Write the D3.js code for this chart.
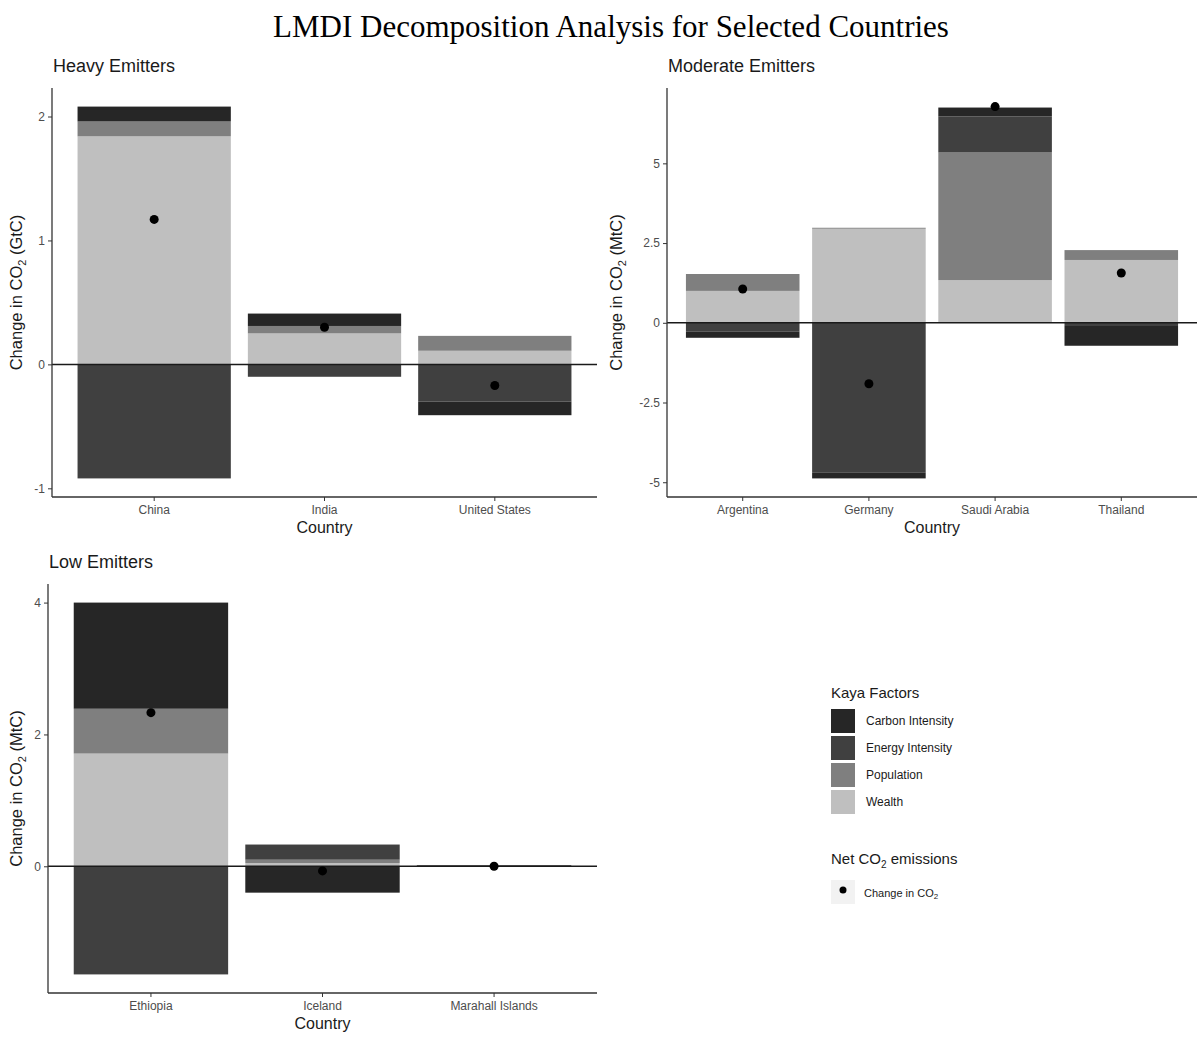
<!DOCTYPE html>
<html>
<head>
<meta charset="utf-8">
<script src="https://cdn.jsdelivr.net/npm/d3@7"></script>
<style>
  body { margin: 0; background: #fff; }
  text { font-family: "Liberation Sans", Arial, sans-serif; }
</style>
</head>
<body>
<div id="graph"></div>
<script>
const kaya_factors = ["Carbon Intensity", "Energy Intensity", "Population", "Wealth"];
const factor_colors = ["#262626", "#404040", "#7f7f7f", "#bfbfbf"];

// heavy emitters (GtC)
const heavy_countries = ["China", "India", "United States"];
const heavy_carbon = [0.12, 0.10, -0.11];
const heavy_energy = [-0.92, -0.10, -0.30];
const heavy_population = [0.12, 0.06, 0.12];
const heavy_wealth = [1.84, 0.25, 0.11];
const heavy_net = [1.17, 0.30, -0.17];

// moderate emitters (MtC)
const moderate_countries = ["Argentina", "Germany", "Saudi Arabia", "Thailand"];
const moderate_carbon = [-0.19, -0.19, 0.28, -0.62];
const moderate_energy = [-0.28, -4.69, 1.13, -0.10];
const moderate_population = [0.53, 0.03, 4.0, 0.31];
const moderate_wealth = [1.0, 2.95, 1.34, 1.97];
const moderate_net = [1.06, -1.91, 6.78, 1.56];

// low emitters (MtC)
const low_countries = ["Ethiopia", "Iceland", "Marahall Islands"];
const low_carbon = [1.61, -0.40, 0.01];
const low_energy = [-1.64, 0.23, -0.01];
const low_population = [0.68, 0.05, 0.004];
const low_wealth = [1.71, 0.05, 0.004];
const low_net = [2.33, -0.07, 0.0];

const heavy_ticks = [-1, 0, 1, 2];
const moderate_ticks = [-5, -2.5, 0, 2.5, 5];
const low_ticks = [0, 2, 4];

const width = 1201, height = 1046;

const svg = d3.select('#graph').append('svg')
  .attr('width', width)
  .attr('height', height);

svg.append('text')
  .attr('x', 611).attr('y', 37)
  .attr('text-anchor', 'middle')
  .style('font-family', '"Liberation Serif", "Times New Roman", serif')
  .style('font-size', '31px')
  .attr('fill', '#000')
  .text('LMDI Decomposition Analysis for Selected Countries');

function make_rows(countries, carbon, energy, population, wealth) {
  return countries.map((c, i) => ({
    country: c,
    "Carbon Intensity": carbon[i],
    "Energy Intensity": energy[i],
    "Population": population[i],
    "Wealth": wealth[i]
  }));
}

function draw_panel(opts) {
  const rows = make_rows(opts.countries, opts.carbon, opts.energy, opts.population, opts.wealth);
  // wealth stacked nearest to zero, carbon intensity furthest
  const keys = kaya_factors.slice().reverse();
  const series = d3.stack().keys(keys).offset(d3.stackOffsetDiverging)(rows);

  let lo = d3.min(series, s => d3.min(s, d => d[0]));
  let hi = d3.max(series, s => d3.max(s, d => d[1]));
  lo = Math.min(lo, d3.min(opts.net));
  hi = Math.max(hi, d3.max(opts.net));
  const pad = (hi - lo) * 0.05;

  const y = d3.scaleLinear().domain([lo - pad, hi + pad]).range([opts.bottom, opts.top]);

  const step = (opts.right - opts.left) / (opts.countries.length - 1 + 1.2);
  const x = d3.scaleBand()
    .domain(opts.countries)
    .range([opts.left + 0.6 * step - step / 2, opts.right - 0.6 * step + step / 2])
    .paddingInner(0.1).paddingOuter(0.05);

  const color = d3.scaleOrdinal().domain(kaya_factors).range(factor_colors);

  const g = svg.append('g');

  g.selectAll('g.layer')
    .data(series)
    .join('g')
    .attr('class', 'layer')
    .attr('fill', s => color(s.key))
    .selectAll('rect')
    .data(s => s)
    .join('rect')
    .attr('x', d => x(d.data.country))
    .attr('width', x.bandwidth())
    .attr('y', d => y(Math.max(d[0], d[1])))
    .attr('height', d => Math.abs(y(d[0]) - y(d[1])));

  // zero line
  g.append('line')
    .attr('x1', opts.left).attr('x2', opts.right)
    .attr('y1', y(0)).attr('y2', y(0))
    .attr('stroke', '#1a1a1a')
    .attr('stroke-width', 1.5);

  // net change points
  g.selectAll('circle.net')
    .data(opts.countries)
    .join('circle')
    .attr('class', 'net')
    .attr('cx', (c) => x(c) + x.bandwidth() / 2)
    .attr('cy', (c, i) => y(opts.net[i]))
    .attr('r', 4.5)
    .attr('fill', '#000');

  // axes
  const yAxis = g.append('g')
    .attr('transform', `translate(${opts.left},0)`)
    .call(d3.axisLeft(y).tickValues(opts.ticks).tickSize(4).tickPadding(3)
      .tickFormat(d => String(d)));
  yAxis.select('.domain').attr('d', `M0,${opts.top}V${opts.bottom}`);

  const xAxis = g.append('g')
    .attr('transform', `translate(0,${opts.bottom})`)
    .call(d3.axisBottom(x).tickSize(4).tickPadding(4));
  xAxis.select('.domain').attr('d', `M${opts.left},0H${opts.right}`);

  [yAxis, xAxis].forEach(a => {
    a.select('.domain').attr('stroke', '#333').attr('stroke-width', 1.3);
    a.selectAll('.tick line').attr('stroke', '#333');
    a.selectAll('.tick text').attr('fill', '#4d4d4d').style('font-size', '12px')
      .style('font-family', '"Liberation Sans", Arial, sans-serif');
  });

  // titles
  svg.append('text')
    .attr('x', opts.left + 1).attr('y', opts.top - 16)
    .style('font-size', '18px').attr('fill', '#1a1a1a')
    .text(opts.title);

  svg.append('text')
    .attr('x', (opts.left + opts.right) / 2).attr('y', opts.bottom + 36)
    .attr('text-anchor', 'middle')
    .style('font-size', '16px').attr('fill', '#1a1a1a')
    .text('Country');

  const yl = svg.append('text')
    .attr('transform', `translate(${opts.label_x},${(opts.top + opts.bottom) / 2}) rotate(-90)`)
    .attr('text-anchor', 'middle')
    .style('font-size', '16.5px').attr('fill', '#1a1a1a');
  yl.append('tspan').text('Change in CO');
  yl.append('tspan').attr('dy', 4).style('font-size', '11px').text('2');
  yl.append('tspan').attr('dy', -4).text(' (' + opts.unit + ')');
}

draw_panel({
  title: 'Heavy Emitters', unit: 'GtC',
  countries: heavy_countries, carbon: heavy_carbon, energy: heavy_energy,
  population: heavy_population, wealth: heavy_wealth, net: heavy_net,
  ticks: heavy_ticks, left: 52, right: 597, top: 88, bottom: 497, label_x: 22
});

draw_panel({
  title: 'Moderate Emitters', unit: 'MtC',
  countries: moderate_countries, carbon: moderate_carbon, energy: moderate_energy,
  population: moderate_population, wealth: moderate_wealth, net: moderate_net,
  ticks: moderate_ticks, left: 667, right: 1197, top: 88, bottom: 497, label_x: 622
});

draw_panel({
  title: 'Low Emitters', unit: 'MtC',
  countries: low_countries, carbon: low_carbon, energy: low_energy,
  population: low_population, wealth: low_wealth, net: low_net,
  ticks: low_ticks, left: 48, right: 597, top: 584, bottom: 993, label_x: 22
});

// legend
const lg = svg.append('g').attr('transform', 'translate(831,0)');
lg.append('text').attr('x', 0).attr('y', 698)
  .style('font-size', '15px').attr('fill', '#1a1a1a').text('Kaya Factors');

lg.selectAll('rect.key')
  .data(kaya_factors)
  .join('rect')
  .attr('class', 'key')
  .attr('x', 0)
  .attr('y', (d, i) => 709 + i * 27)
  .attr('width', 24).attr('height', 24)
  .attr('fill', (d, i) => factor_colors[i]);

lg.selectAll('text.key')
  .data(kaya_factors)
  .join('text')
  .attr('class', 'key')
  .attr('x', 35)
  .attr('y', (d, i) => 721 + i * 27)
  .attr('dy', '0.35em')
  .style('font-size', '12px').attr('fill', '#1a1a1a')
  .text(d => d);

const nt = lg.append('text').attr('x', 0).attr('y', 864)
  .style('font-size', '15px').attr('fill', '#1a1a1a');
nt.append('tspan').text('Net CO');
nt.append('tspan').attr('dy', 4).style('font-size', '10px').text('2');
nt.append('tspan').attr('dy', -4).text(' emissions');

lg.append('rect').attr('x', 0).attr('y', 880).attr('width', 24).attr('height', 24)
  .attr('fill', '#f2f2f2');
lg.append('circle').attr('cx', 12).attr('cy', 890).attr('r', 3.5).attr('fill', '#000');
const ct = lg.append('text').attr('x', 33).attr('y', 897)
  .style('font-size', '11px').attr('fill', '#1a1a1a');
ct.append('tspan').text('Change in CO');
ct.append('tspan').attr('dy', 2).style('font-size', '8px').text('2');
</script>
</body>
</html>
